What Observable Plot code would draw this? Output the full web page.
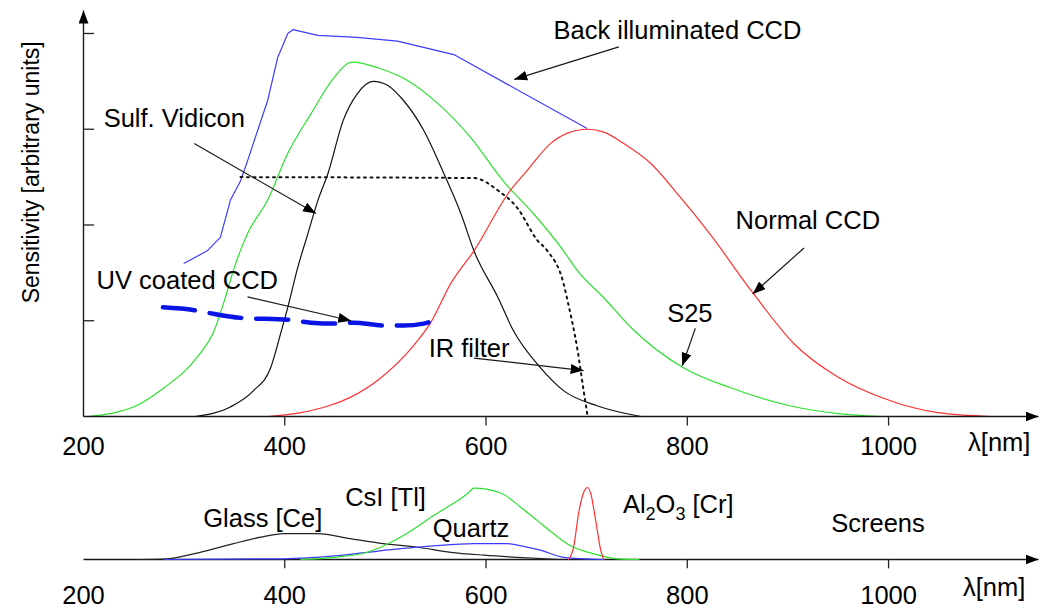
<!DOCTYPE html>
<html>
<head>
<meta charset="utf-8">
<script src="https://cdn.jsdelivr.net/npm/d3@7"></script>
<script src="https://cdn.jsdelivr.net/npm/@observablehq/plot@0.6"></script>
<style>
  html, body { margin: 0; padding: 0; background: #ffffff; }
  #chart svg { display: block; }
</style>
</head>
<body>
<div id="chart"></div>
<script>
// ---------- Top panel: detector sensitivities ----------
const backIllumLambda = [300, 323, 336, 346, 356, 363, 383, 393, 403, 408, 433, 472, 512, 568, 700];
const backIllumValue  = [1.60, 1.73, 1.87, 2.26, 2.46, 2.67, 3.30, 3.75, 4.00, 4.04, 3.98, 3.96, 3.92, 3.78, 3.01];

const s25Lambda = [205, 253, 280, 313, 330, 340, 350, 363, 383, 403, 426, 449, 467, 493, 522, 552, 585, 617, 647, 677, 691, 717, 744, 796, 843, 903, 950, 992];
const s25Value  = [0, 0.115, 0.30, 0.62, 0.90, 1.21, 1.56, 1.91, 2.26, 2.75, 3.16, 3.54, 3.70, 3.64, 3.51, 3.27, 2.91, 2.46, 2.12, 1.73, 1.52, 1.24, 0.93, 0.51, 0.30, 0.11, 0.03, 0];

const vidiconLambda = [311, 346, 369, 386, 396, 403, 413, 423, 433, 443, 458, 472, 488, 502, 518, 538, 558, 575, 588, 612, 627, 654, 677, 711, 754];
const vidiconValue  = [0, 0.10, 0.27, 0.51, 0.87, 1.14, 1.56, 1.91, 2.26, 2.54, 3.09, 3.37, 3.50, 3.46, 3.30, 2.99, 2.54, 2.12, 1.73, 1.24, 0.90, 0.51, 0.27, 0.11, 0];

const normalLambda = [383, 416, 446, 465, 495, 528, 545, 565, 588, 624, 641, 664, 681, 701, 717, 737, 764, 793, 820, 866, 906, 950, 995, 1049, 1102];
const normalValue  = [0, 0.04, 0.12, 0.20, 0.40, 0.74, 0.98, 1.39, 1.73, 2.36, 2.57, 2.85, 2.96, 3.00, 2.97, 2.85, 2.64, 2.29, 1.94, 1.28, 0.76, 0.41, 0.19, 0.04, 0];

const irLambda = [356, 588, 612, 631, 651, 661, 677, 681, 691, 697, 701];
const irValue  = [2.50, 2.49, 2.36, 2.18, 1.84, 1.73, 1.39, 1.21, 0.69, 0.27, 0];

const uvLambda = [279, 310, 325, 356, 404, 426, 452, 469, 498, 518, 538, 547];
const uvValue  = [1.14, 1.11, 1.08, 1.03, 1.01, 0.98, 0.97, 0.98, 0.95, 0.95, 0.97, 1.00];

const xTicks = [200, 400, 600, 800, 1000];
const yTicks = [1, 2, 3, 4];

const topLabels = ["Back illuminated CCD", "Sulf. Vidicon", "UV coated CCD", "IR filter", "S25", "Normal CCD"];
const topLabelLambda = [667, 220, 213, 543, 780, 848];
const topLabelValue  = [4.03, 3.11, 1.42, 0.71, 1.07, 2.04];
const arrowFromLambda = [732, 310, 363, 588, 808, 916];
const arrowFromValue  = [3.86, 2.85, 1.25, 0.61, 0.92, 1.76];
const arrowToLambda   = [628, 431, 466, 697, 795, 865];
const arrowToValue    = [3.52, 2.12, 1.00, 0.48, 0.53, 1.28];

// ---------- Bottom panel: screens ----------
const glassLambda = [257, 283, 316, 349, 376, 399, 433, 465, 498, 532, 565, 598, 631, 674];
const glassValue  = [0, 0.01, 0.10, 0.22, 0.31, 0.36, 0.36, 0.29, 0.22, 0.17, 0.10, 0.06, 0.03, 0];

const quartzLambda = [280, 399, 449, 482, 515, 548, 588, 621, 635, 654, 677, 717];
const quartzValue  = [0, 0.01, 0.05, 0.10, 0.15, 0.19, 0.22, 0.22, 0.19, 0.13, 0.03, 0];

const csiLambda = [416, 449, 482, 515, 548, 582, 588, 615, 635, 651, 667, 684, 707, 731, 752];
const csiValue  = [0, 0.03, 0.10, 0.31, 0.61, 0.92, 0.99, 0.92, 0.72, 0.54, 0.36, 0.19, 0.08, 0.01, 0];

const rubyLambda = [682, 687, 692, 697, 701, 704, 709, 714, 717];
const rubyValue  = [0, 0.17, 0.64, 0.93, 1.0, 0.92, 0.54, 0.13, 0];

const bottomLabels = ["Glass [Ce]", "CsI [Tl]", "Quartz", "Al2O3 [Cr]", "Screens"];
const bottomLabelLambda = [319, 460, 547, 736, 943];
const bottomLabelValue  = [0.57, 0.86, 0.43, 0.76, 0.50];

// ---------- helpers ----------
const zip = (xs, ys) => xs.map((x, i) => ({x, y: ys[i]}));
const FONT = "'Liberation Sans', Arial, Helvetica, sans-serif";
const FS = 25.5;
const W = 1044;
const xDomain = [200, 1149];
const ARROW_INK = "#1a1a1a";

function addArrowMarker(svg, id, len, half) {
  const defs = d3.select(svg).insert("defs", ":first-child");
  defs.append("marker")
    .attr("id", id)
    .attr("viewBox", `0 0 ${len} ${2 * half}`)
    .attr("refX", len).attr("refY", half)
    .attr("markerWidth", len).attr("markerHeight", 2 * half)
    .attr("markerUnits", "userSpaceOnUse")
    .attr("orient", "auto")
    .append("path")
    .attr("d", `M0,0L${len},${half}L0,${2 * half}Z`)
    .attr("fill", "#000");
}
function applyMarker(svg, id) {
  d3.select(svg).selectAll("path, line")
    .filter(function() {
      const g = this.closest("g");
      return (g && (g.getAttribute("stroke") || "").toLowerCase() === ARROW_INK) ||
             (this.getAttribute("stroke") || "").toLowerCase() === ARROW_INK;
    })
    .attr("marker-end", `url(#${id})`);
}

const lineStyle = {x: "x", y: "y", strokeWidth: 1.2, strokeLinejoin: "round", curve: "monotone-x"};

// ---------- top plot ----------
const annotationLinks = arrowFromLambda.map((l, i) => ({
  x1: l, y1: arrowFromValue[i], x2: arrowToLambda[i], y2: arrowToValue[i]
}));
const topLabelData = topLabels.map((t, i) => ({t, x: topLabelLambda[i], y: topLabelValue[i]}));

const topChart = Plot.plot({
  width: W, height: 470,
  marginLeft: 83, marginRight: 6, marginTop: 10, marginBottom: 54,
  x: {domain: xDomain, axis: null},
  y: {domain: [0, 4.24], axis: null},
  style: {fontFamily: FONT, background: "white", overflow: "visible"},
  marks: [
    Plot.line(zip(backIllumLambda, backIllumValue), {...lineStyle, curve: "linear", stroke: "#3c3cff"}),
    Plot.line(zip(s25Lambda, s25Value), {...lineStyle, stroke: "#2ee02e"}),
    Plot.line(zip(vidiconLambda, vidiconValue), {...lineStyle, stroke: "#111"}),
    Plot.line(zip(normalLambda, normalValue), {...lineStyle, stroke: "#ff3232"}),
    Plot.line(zip(irLambda, irValue), {x: "x", y: "y", curve: "monotone-x", stroke: "#111", strokeWidth: 2, strokeDasharray: "2,4.5"}),
    Plot.line(zip(uvLambda, uvValue), {x: "x", y: "y", curve: "monotone-x", stroke: "#0a14e6", strokeWidth: 4.5, strokeDasharray: "32,15"}),
    // axes
    Plot.link([{x1: 200, y1: 0, x2: 1149, y2: 0}, {x1: 200, y1: 0, x2: 200, y2: 4.24}],
      {x1: "x1", y1: "y1", x2: "x2", y2: "y2", stroke: ARROW_INK, strokeWidth: 1.4}),
    Plot.ruleX(xTicks.slice(1), {x: d => d, y1: 0, y2: -0.1, stroke: "#222", strokeWidth: 1.3}),
    Plot.ruleY(yTicks, {y: d => d, x1: 200, x2: 211, stroke: "#222", strokeWidth: 1.3}),
    Plot.text(xTicks, {x: d => d, y: -0.32, text: d => String(d), fontSize: FS, fill: "#000"}),
    Plot.text(["λ[nm]"], {x: 1079, y: -0.28, text: d => d, textAnchor: "start", fontSize: FS, fill: "#000"}),
    Plot.text(["Sensitivity [arbitrary units]"], {x: 148, y: 2.55, text: d => d, rotate: -90, fontSize: 23, fill: "#000"}),
    // annotations
    Plot.link(annotationLinks, {x1: "x1", y1: "y1", x2: "x2", y2: "y2", stroke: ARROW_INK, strokeWidth: 1.2}),
    Plot.text(topLabelData, {x: "x", y: "y", text: "t", textAnchor: "start", fontSize: FS, fill: "#000"})
  ]
});
addArrowMarker(topChart, "topArrow", 13, 5);
applyMarker(topChart, "topArrow");

// ---------- bottom plot ----------
const bottomLabelData = bottomLabels.map((t, i) => ({t, x: bottomLabelLambda[i], y: bottomLabelValue[i]}));
const bottomChart = Plot.plot({
  width: W, height: 138,
  marginLeft: 83, marginRight: 6, marginTop: 17, marginBottom: 49,
  x: {domain: xDomain, axis: null},
  y: {domain: [0, 1], axis: null},
  style: {fontFamily: FONT, background: "white", overflow: "visible"},
  marks: [
    Plot.link([{x1: 200, y1: 0, x2: 1149, y2: 0}],
      {x1: "x1", y1: "y1", x2: "x2", y2: "y2", stroke: ARROW_INK, strokeWidth: 1.4}),
    Plot.line(zip(glassLambda, glassValue), {...lineStyle, stroke: "#222"}),
    Plot.line(zip(quartzLambda, quartzValue), {...lineStyle, stroke: "#3c3cff"}),
    Plot.line(zip(csiLambda, csiValue), {...lineStyle, stroke: "#2ee02e"}),
    Plot.line(zip(rubyLambda, rubyValue), {...lineStyle, stroke: "#ff3232"}),
    Plot.ruleX(xTicks.slice(1), {x: d => d, y1: 0, y2: -0.13, stroke: "#222", strokeWidth: 1.3}),
    Plot.text(xTicks, {x: d => d, y: -0.51, text: d => String(d), fontSize: FS, fill: "#000"}),
    Plot.text(["λ[nm]"], {x: 1074, y: -0.40, text: d => d, textAnchor: "start", fontSize: FS, fill: "#000"}),
    Plot.text(bottomLabelData, {x: "x", y: "y", text: "t", textAnchor: "start", fontSize: FS, fill: "#000"})
  ]
});
addArrowMarker(bottomChart, "bottomArrow", 13, 5);
applyMarker(bottomChart, "bottomArrow");
// subscripts for Al2O3
d3.select(bottomChart).selectAll("text").filter(function() { return this.textContent === "Al2O3 [Cr]"; })
  .each(function() {
    const t = d3.select(this);
    t.text(null);
    t.append("tspan").text("Al");
    t.append("tspan").attr("font-size", 18).attr("dy", 7).text("2");
    t.append("tspan").attr("dy", -7).text("O");
    t.append("tspan").attr("font-size", 18).attr("dy", 7).text("3");
    t.append("tspan").attr("dy", -7).text(" [Cr]");
  });

const container = document.getElementById("chart");
container.appendChild(topChart);
container.appendChild(bottomChart);
</script>
</body>
</html>
